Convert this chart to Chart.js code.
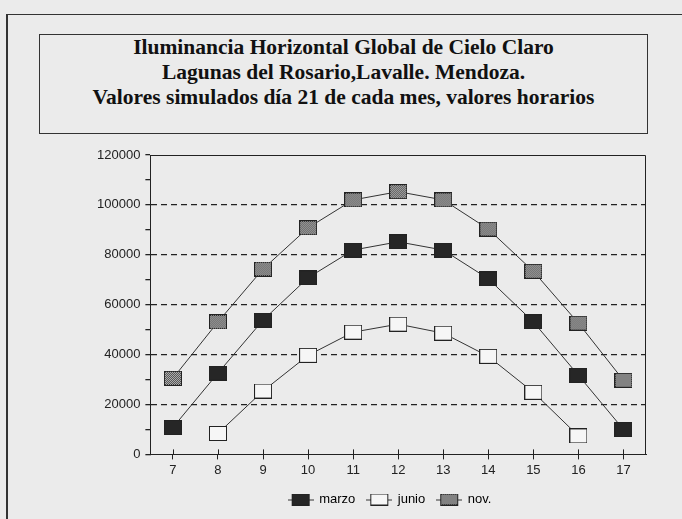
<!DOCTYPE html>
<html>
<head>
<meta charset="utf-8">
<script src="https://cdn.jsdelivr.net/npm/chart.js@4.4.0/dist/chart.umd.min.js"></script>
<style>
  body { margin: 0; width: 682px; height: 519px; overflow: hidden; position: relative; background: #ebebeb; }
  #frame { position: absolute; left: 6px; top: 14px; width: 690px; height: 520px; border-top: 1px solid #333; border-left: 2px solid #333; }
  #titlebox { position: absolute; left: 39px; top: 34px; width: 607px; height: 98px; border: 1px solid #333;
    font-family: "Liberation Serif", serif; font-weight: bold; font-size: 21.5px; line-height: 25px; text-align: center; color: #111; }
  #chartwrap { position: absolute; left: 0; top: 0; width: 682px; height: 519px; }
</style>
</head>
<body>
<div id="frame"></div>
<div id="titlebox">
  <div>Iluminancia Horizontal Global de Cielo Claro</div>
  <div>Lagunas del Rosario,Lavalle. Mendoza.</div>
  <div>Valores simulados día 21 de cada mes, valores horarios</div>
</div>
<div id="chartwrap"><canvas id="chart" width="682" height="519"></canvas></div>
<script>
const hours = ['7', '8', '9', '10', '11', '12', '13', '14', '15', '16', '17'];
const marzo = [10800, 32600, 53800, 70800, 81900, 85200, 81900, 70400, 53100, 31700, 10000];
const junio = [null, 8400, 25400, 39700, 49000, 52200, 48600, 39300, 24900, 7400, null];
const nov = [30500, 53100, 74300, 90800, 102000, 105300, 102000, 90300, 73400, 52600, 29700];
const yMax = 120000;
const yStep = 10000;

function dotPattern() {
    const c = document.createElement('canvas');
    c.width = 2; c.height = 2;
    const g = c.getContext('2d');
    g.fillStyle = '#d0d0d0';
    g.fillRect(0, 0, 2, 2);
    g.fillStyle = '#353535';
    g.fillRect(0, 0, 1, 1);
    g.fillRect(1, 1, 1, 1);
    return g.createPattern(c, 'repeat');
}

// rectangular marker; stubs=true adds the little line for the legend
function makeMarker(fill, w, h, stubs) {
    const pad = stubs ? 4 : 0;
    const c = document.createElement('canvas');
    c.width = w + pad * 2; c.height = h;
    const g = c.getContext('2d');
    if (stubs) {
        g.strokeStyle = '#333';
        g.lineWidth = 1;
        g.beginPath();
        g.moveTo(0, h / 2 + 0.5); g.lineTo(c.width, h / 2 + 0.5);
        g.stroke();
    }
    g.fillStyle = fill;
    g.fillRect(pad, 0, w, h);
    g.strokeStyle = '#222';
    g.strokeRect(pad + 0.5, 0.5, w - 1, h - 1);
    return c;
}

const fills = ['#262626', '#f6f6f6', dotPattern()];
const markers = fills.map(f => makeMarker(f, 18, 15, false));
const legendMarkers = fills.map(f => makeMarker(f, 18, 12, true));

const frameLines = {
    id: 'frameLines',
    afterLayout(chart) {
        // legend sits a bit right of the canvas centre in the original
        if (chart.legend) {
            chart.legend.left += 21;
            chart.legend.right += 21;
        }
    },
    afterDraw(chart) {
        const a = chart.chartArea;
        const ctx = chart.ctx;
        ctx.save();
        ctx.strokeStyle = '#222';
        ctx.lineWidth = 1;
        ctx.beginPath();
        ctx.moveTo(a.left, a.top + 0.5);
        ctx.lineTo(a.right - 0.5, a.top + 0.5);
        ctx.lineTo(a.right - 0.5, a.bottom);
        ctx.stroke();
        // x ticks cross the axis line
        const xs = chart.scales.x;
        hours.forEach((h, i) => {
            const x = Math.round(xs.getPixelForValue(i)) + 0.5;
            ctx.beginPath();
            ctx.moveTo(x, a.bottom - 5);
            ctx.lineTo(x, a.bottom);
            ctx.stroke();
        });
        ctx.restore();
    }
};

const names = ['marzo', 'junio', 'nov.'];
const series = [marzo, junio, nov];

new Chart(document.getElementById('chart'), {
    type: 'line',
    data: {
        labels: hours,
        datasets: series.map((d, i) => ({
            label: names[i],
            data: d,
            borderColor: '#333',
            borderWidth: 1,
            pointStyle: markers[i],
            pointRadius: 9,
            pointHoverRadius: 9,
            tension: 0,
            spanGaps: false
        }))
    },
    options: {
        responsive: false,
        animation: false,
        events: [],
        layout: { padding: { top: 155, left: 92, right: 36, bottom: 3 } },
        scales: {
            x: {
                offset: true,
                grid: { drawOnChartArea: false, tickLength: 5, tickColor: '#222' },
                border: { color: '#222', width: 1 },
                ticks: { color: '#222', padding: 3, font: { family: 'Liberation Sans', size: 13 } }
            },
            y: {
                min: 0,
                max: yMax,
                ticks: {
                    stepSize: yStep,
                    autoSkip: false,
                    color: '#222',
                    padding: 5,
                    font: { family: 'Liberation Sans', size: 13 },
                    callback: v => (v % 20000 === 0 ? String(v) : '')
                },
                grid: {
                    tickLength: 5,
                    tickColor: '#222',
                    color: ctx => (ctx.tick && ctx.tick.value % 20000 === 0 && ctx.tick.value > 0 && ctx.tick.value < yMax) ? '#222' : 'rgba(0,0,0,0)',
                    lineWidth: 1.3
                },
                border: { color: '#222', width: 1, dash: [6, 4] }
            }
        },
        plugins: {
            legend: {
                position: 'bottom',
                labels: {
                    usePointStyle: true,
                    pointStyleWidth: 24,
                    generateLabels: chart => names.map((n, i) => ({
                        text: n,
                        pointStyle: legendMarkers[i],
                        fillStyle: fills[i],
                        strokeStyle: '#222',
                        lineWidth: 1,
                        datasetIndex: i
                    })),
                    color: '#222',
                    padding: 12,
                    font: { family: 'Liberation Sans', size: 13 }
                }
            },
            tooltip: { enabled: false }
        }
    },
    plugins: [frameLines]
});
</script>
</body>
</html>
